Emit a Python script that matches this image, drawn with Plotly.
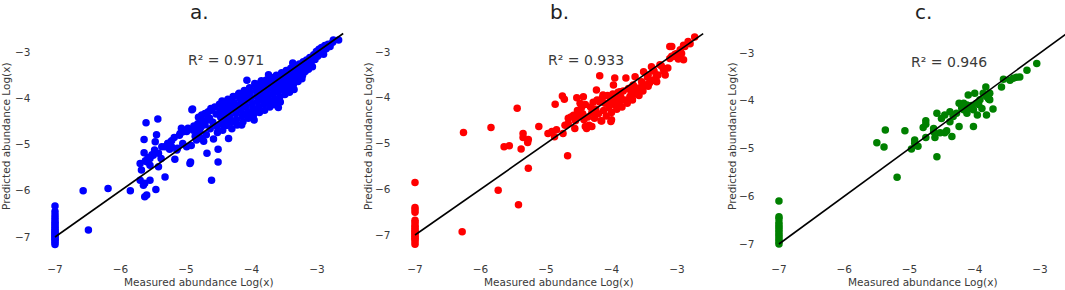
import plotly.graph_objects as go

# ---------------- data ----------------
panel_titles = ["a.", "b.", "c."]
r2_labels = ["R² = 0.971", "R² = 0.933", "R² = 0.946"]
colors = ["blue", "red", "green"]
tick_values = [-7, -6, -5, -4, -3]
tick_labels = ["−7", "−6", "−5", "−4", "−3"]
identity_line = [-7.0, -2.6]

zero_column_a = [-6.33, -6.45, -6.52, -6.58, -6.63, -6.68, -6.72, -6.76, -6.80, -6.84,
                 -6.87, -6.90, -6.93, -6.96, -6.99, -7.02, -7.05, -7.08, -7.12, -7.16]
points_a = [
    (-6.57, -6.00), (-6.49, -6.85), (-6.19, -5.95), (-5.85, -6.00), (-5.61, -4.53),
    (-5.43, -4.45), (-5.64, -4.89), (-5.45, -4.79), (-5.47, -4.94), (-5.64, -5.18),
    (-5.70, -5.41), (-5.68, -5.55), (-5.62, -5.35), (-5.58, -5.28), (-5.52, -5.22),
    (-5.48, -5.12), (-5.42, -5.48), (-5.32, -5.70), (-5.70, -5.77), (-5.63, -5.84),
    (-5.55, -5.77), (-5.65, -5.88), (-5.46, -5.97), (-5.63, -6.13), (-5.60, -6.09),
    (-5.17, -5.32), (-4.94, -5.41), (-4.68, -5.19), (-4.61, -5.77), (-4.51, -5.10),
    (-4.51, -5.38), (-4.93, -5.38), (-4.90, -4.23), (-5.38, -5.30), (-5.55, -5.45),
    (-5.55, -5.30), (-5.50, -5.23), (-5.60, -5.37), (-5.42, -5.19), (-5.37, -5.05),
    (-5.27, -4.97), (-5.22, -5.05), (-5.14, -5.12), (-5.09, -4.76), (-5.07, -4.65),
    (-4.99, -4.72), (-4.89, -4.69), (-4.99, -5.05), (-4.84, -4.90), (-4.71, -4.33),
    (-4.68, -4.47), (-3.59, -4.20), (-3.90, -4.25), (-3.29, -3.53), (-4.15, -4.58),
    (-4.35, -4.87), (-4.07, -3.61), (-4.91, -4.25), (-5.32, -5.05), (-5.28, -4.98),
    (-5.25, -5.10), (-5.22, -4.92), (-5.18, -4.85), (-5.13, -5.08), (-5.10, -4.80),
    (-5.05, -4.98), (-5.03, -4.72), (-4.97, -4.65), (-4.92, -5.02), (-4.88, -4.60),
    (-4.86, -4.82), (-4.83, -4.68), (-4.82, -4.55), (-4.78, -4.85), (-4.77, -4.62),
    (-4.81, -4.41), (-4.79, -4.71), (-4.76, -4.36), (-4.74, -4.49), (-4.73, -4.93),
    (-4.71, -4.57), (-4.69, -4.79), (-4.66, -4.29), (-4.64, -4.43), (-4.63, -4.66),
    (-4.61, -4.26), (-4.59, -4.52), (-4.58, -4.88), (-4.56, -4.19), (-4.54, -4.34),
    (-4.53, -4.61), (-4.52, -4.74), (-4.49, -4.13), (-4.48, -4.27), (-4.47, -4.41),
    (-4.46, -4.55), (-4.44, -4.69), (-4.43, -4.09), (-4.42, -4.23), (-4.41, -4.36),
    (-4.39, -4.48), (-4.38, -4.59), (-4.36, -4.02), (-4.35, -4.15), (-4.34, -4.27),
    (-4.33, -4.40), (-4.31, -4.52), (-4.30, -4.66), (-4.28, -3.96), (-4.27, -4.09),
    (-4.26, -4.21), (-4.24, -4.33), (-4.23, -4.46), (-4.22, -4.58), (-4.19, -3.89),
    (-4.18, -4.01), (-4.17, -4.13), (-4.16, -4.26), (-4.14, -4.38), (-4.13, -4.51),
    (-4.11, -3.83), (-4.10, -3.94), (-4.09, -4.07), (-4.08, -4.19), (-4.06, -4.31),
    (-4.05, -4.43), (-4.03, -3.77), (-4.02, -3.88), (-4.01, -4.00), (-3.99, -4.12),
    (-3.98, -4.24), (-3.97, -4.36), (-3.96, -4.47), (-3.94, -3.71), (-3.93, -3.83),
    (-3.92, -3.95), (-3.91, -4.07), (-3.89, -4.18), (-3.88, -4.31), (-3.86, -3.66),
    (-3.85, -3.78), (-3.84, -3.90), (-3.83, -4.02), (-3.81, -4.13), (-3.80, -4.26),
    (-3.78, -3.61), (-3.77, -3.72), (-3.76, -3.84), (-3.75, -3.96), (-3.73, -4.08),
    (-3.72, -4.19), (-3.70, -3.55), (-3.69, -3.67), (-3.68, -3.79), (-3.67, -3.91),
    (-3.65, -4.02), (-3.64, -4.14), (-3.62, -3.50), (-3.61, -3.62), (-3.60, -3.74),
    (-3.59, -3.86), (-3.57, -3.97), (-3.56, -4.08), (-3.54, -3.45), (-3.53, -3.57),
    (-3.52, -3.69), (-3.51, -3.81), (-3.49, -3.92), (-3.47, -3.40), (-3.46, -3.52),
    (-3.45, -3.63), (-3.44, -3.75), (-3.42, -3.87), (-3.40, -3.35), (-3.39, -3.46),
    (-3.38, -3.58), (-3.36, -3.70), (-3.35, -3.81), (-3.33, -3.30), (-3.32, -3.41),
    (-3.31, -3.52), (-3.29, -3.64), (-3.27, -3.26), (-3.26, -3.36), (-3.25, -3.47),
    (-3.23, -3.58), (-3.21, -3.21), (-3.20, -3.31), (-3.18, -3.42), (-3.16, -3.17),
    (-3.14, -3.27), (-3.13, -3.37), (-3.11, -3.12), (-3.09, -3.22), (-3.07, -3.32),
    (-3.05, -3.06), (-3.03, -3.16), (-3.01, -2.99), (-2.99, -3.09), (-2.97, -2.94),
    (-2.95, -3.04), (-2.93, -2.90), (-2.91, -2.98), (-2.88, -2.86), (-2.86, -2.93),
    (-2.83, -2.83), (-2.80, -2.88), (-2.76, -2.79), (-2.75, -2.74), (-2.67, -2.74),
    (-2.90, -3.05), (-3.22, -3.50), (-3.48, -3.45), (-3.85, -3.62), (-4.20, -3.92),
    (-4.45, -4.06), (-4.62, -4.22), (-3.74, -3.49), (-3.37, -3.24), (-3.95, -3.68),
]

zero_column_b = [-5.85, -6.40, -6.45, -6.50, -6.68, -6.72, -6.78, -6.82, -6.86, -6.90,
                 -6.93, -6.96, -7.00, -7.03, -7.07, -7.10, -7.15, -7.20]
points_b = [
    (-6.28, -6.93), (-5.73, -6.02), (-5.42, -6.34), (-6.26, -4.76), (-5.84, -4.65),
    (-5.44, -4.23), (-5.64, -5.07), (-5.56, -5.05), (-5.38, -5.12), (-5.35, -4.78),
    (-5.35, -4.87), (-5.28, -4.98), (-5.27, -4.91), (-5.27, -5.54), (-5.11, -4.63),
    (-4.97, -4.78), (-4.91, -4.74), (-4.87, -4.85), (-4.84, -4.70), (-4.86, -4.14),
    (-4.75, -3.96), (-4.72, -4.03), (-4.67, -5.27), (-4.74, -4.78), (-4.18, -3.52),
    (-3.95, -3.57), (-3.78, -3.57), (-4.53, -4.00), (-4.43, -3.98), (-4.48, -4.12),
    (-4.23, -3.83), (-4.13, -3.94), (-4.18, -4.09), (-3.97, -3.72), (-3.87, -3.87),
    (-3.92, -4.16), (-4.01, -4.52), (-4.38, -4.67), (-4.30, -4.63), (-4.66, -4.45),
    (-4.71, -4.60), (-4.58, -4.38), (-3.67, -3.72), (-3.59, -3.79), (-3.51, -3.43),
    (-3.44, -3.50), (-3.36, -3.39), (-3.29, -3.50), (-3.21, -3.36), (-3.11, -3.14),
    (-3.06, -3.10), (-3.00, -3.03), (-3.08, -2.88), (-2.90, -2.85), (-2.83, -2.77),
    (-2.73, -2.67), (-3.44, -3.75), (-3.26, -3.28), (-4.00, -4.48), (-4.40, -4.63),
    (-4.56, -4.67), (-4.15, -4.51), (-4.66, -4.56), (-3.11, -2.88), (-2.93, -3.03),
    (-2.90, -3.17), (-3.08, -3.09), (-3.18, -3.50), (-3.31, -3.65), (-3.49, -3.72),
    (-3.39, -3.32), (-3.64, -3.54), (-3.69, -4.01),
    (-4.62, -4.42), (-4.55, -4.50), (-4.52, -4.28), (-4.50, -4.40), (-4.46, -4.22),
    (-4.44, -4.35), (-4.42, -4.48), (-4.40, -4.15), (-4.36, -4.42), (-4.34, -4.60),
    (-4.32, -4.20), (-4.30, -4.32), (-4.28, -4.10), (-4.26, -4.45), (-4.24, -4.25),
    (-4.22, -4.05), (-4.20, -4.35), (-4.16, -4.50), (-4.14, -4.00), (-4.12, -4.28),
    (-4.10, -4.12), (-4.08, -4.40), (-4.06, -3.95), (-4.04, -4.22), (-4.02, -4.08),
    (-4.00, -4.32), (-3.98, -3.92), (-3.96, -4.15), (-3.94, -4.02), (-3.92, -4.25),
    (-3.90, -3.88), (-3.88, -4.10), (-3.86, -3.98), (-3.84, -4.20), (-3.82, -3.85),
    (-3.80, -4.05), (-3.76, -4.12), (-3.74, -3.80), (-3.72, -3.98), (-3.70, -3.88),
    (-3.68, -4.05), (-3.66, -3.75), (-3.64, -3.92), (-3.62, -3.82), (-3.58, -3.95),
    (-3.56, -3.78), (-3.54, -3.65), (-3.52, -3.85), (-3.48, -3.72), (-3.45, -3.55),
    (-3.42, -3.68), (-3.38, -3.62), (-3.35, -3.42), (-3.32, -3.55), (-3.24, -3.30),
    (-3.20, -3.42), (-3.14, -3.35), (-3.03, -3.05), (-2.98, -3.15), (-2.95, -2.95),
    (-2.88, -2.88), (-2.80, -2.82),
]

zero_column_c = [-6.10, -6.43, -6.47, -6.55, -6.60, -6.65, -6.70, -6.75, -6.80, -6.85,
                 -6.90, -6.95, -7.00]
points_c = [
    (-5.19, -5.60), (-5.50, -4.88), (-5.39, -4.97), (-5.37, -4.61), (-5.07, -4.63),
    (-4.97, -5.01), (-4.92, -4.82), (-4.92, -4.89), (-4.87, -4.95), (-4.79, -4.56),
    (-4.75, -4.49), (-4.75, -4.42), (-4.75, -4.77), (-4.61, -4.77), (-4.58, -5.17),
    (-4.63, -4.58), (-4.63, -4.65), (-4.53, -4.67), (-4.46, -4.67), (-4.35, -4.75),
    (-4.43, -4.63), (-4.58, -4.26), (-4.51, -4.37), (-4.46, -4.30), (-4.38, -4.23),
    (-4.33, -4.33), (-4.38, -4.44), (-4.24, -4.05), (-4.28, -4.26), (-4.24, -4.54),
    (-4.17, -4.19), (-4.12, -4.26), (-4.10, -3.88), (-4.02, -4.54), (-4.00, -3.84),
    (-3.97, -4.05), (-3.96, -4.30), (-3.92, -3.98), (-3.89, -4.16), (-4.02, -4.19),
    (-4.07, -4.16), (-4.12, -4.09), (-4.17, -4.05), (-3.87, -3.84), (-3.82, -3.91),
    (-3.77, -3.84), (-3.83, -3.71), (-3.77, -3.98), (-3.79, -3.95), (-3.59, -3.71),
    (-3.56, -3.55), (-3.46, -3.57), (-3.41, -3.53), (-3.36, -3.51), (-3.31, -3.50),
    (-3.20, -3.36), (-3.05, -3.22), (-3.72, -4.17), (-3.82, -4.30), (-3.78, -3.97),
    (-4.05, -4.10), (-4.20, -4.15), (-3.94, -4.08),
]

# ---------------- layout constants (pixel geometry of the page) ----------------
W, H = 1065, 290


def fx(px):
    return px / W


def fy(py):
    return 1 - py / H


x_domains = [(fx(40.6), fx(357.6)), (fx(400.6), fx(717.6)), (fx(764.6), 1.0)]
y_domain = (fy(255), fy(21.5))
x_ranges = [(-7.22, -2.38), (-7.22, -2.38), (-7.22, -2.617)]
y_ranges = [(-7.389, -2.34), (-7.437, -2.333), (-7.23, -2.34)]
panel_centers = [199.1, 559.1, 923.1]
ytitle_x = [6, 368, 732]
FONT = "DejaVu Sans"
TXT = "#3a3a3a"

columns = [zero_column_a, zero_column_b, zero_column_c]
clouds = [points_a, points_b, points_c]

fig = go.Figure()
annotations = []
for i in range(3):
    xa = "x" if i == 0 else f"x{i + 1}"
    ya = "y" if i == 0 else f"y{i + 1}"
    xs = [-7.0] * len(columns[i]) + [p[0] for p in clouds[i]]
    ys = list(columns[i]) + [p[1] for p in clouds[i]]
    fig.add_trace(go.Scatter(x=xs, y=ys, mode="markers", xaxis=xa, yaxis=ya,
                             marker=dict(color=colors[i], size=7.5, line=dict(width=0)),
                             showlegend=False))
    fig.add_trace(go.Scatter(x=identity_line, y=identity_line, mode="lines", xaxis=xa, yaxis=ya,
                             line=dict(color="black", width=1.6), showlegend=False))
    axis_common = dict(showgrid=False, zeroline=False, showline=False,
                       tickvals=tick_values, ticktext=tick_labels, ticks="outside",
                       tickcolor="rgba(0,0,0,0)", tickfont=dict(family=FONT, size=10.5, color=TXT))
    fig.layout[("xaxis" if i == 0 else f"xaxis{i + 1}")] = dict(
        domain=list(x_domains[i]), range=list(x_ranges[i]), anchor=ya, ticklen=4, **axis_common)
    fig.layout[("yaxis" if i == 0 else f"yaxis{i + 1}")] = dict(
        domain=list(y_domain), range=list(y_ranges[i]), anchor=xa, ticklen=7, **axis_common)
    cx = fx(panel_centers[i])
    annotations.append(dict(text=panel_titles[i], x=cx, y=fy(12), xref="paper", yref="paper",
                            showarrow=False, xanchor="center", yanchor="middle",
                            font=dict(family=FONT, size=20, color="#222")))
    annotations.append(dict(text=r2_labels[i], x=-5.0, y=-3.18, xref=xa, yref=ya,
                            showarrow=False, xanchor="left", yanchor="middle",
                            font=dict(family=FONT, size=14, color=TXT)))
    annotations.append(dict(text="Measured abundance Log(x)", x=cx, y=fy(282),
                            xref="paper", yref="paper", showarrow=False,
                            xanchor="center", yanchor="middle",
                            font=dict(family=FONT, size=10.5, color=TXT)))
    annotations.append(dict(text="Predicted abundance Log(x)", x=fx(ytitle_x[i]), y=fy(136),
                            xref="paper", yref="paper", showarrow=False, textangle=-90,
                            xanchor="center", yanchor="middle",
                            font=dict(family=FONT, size=10.5, color=TXT)))

fig.update_layout(width=W, height=H, margin=dict(l=0, r=0, t=0, b=0),
                  paper_bgcolor="white", plot_bgcolor="white", annotations=annotations)
fig.write_html("out.html", config={"displayModeBar": False},
               post_script="document.body.style.margin='0';document.body.style.overflow='hidden';")
